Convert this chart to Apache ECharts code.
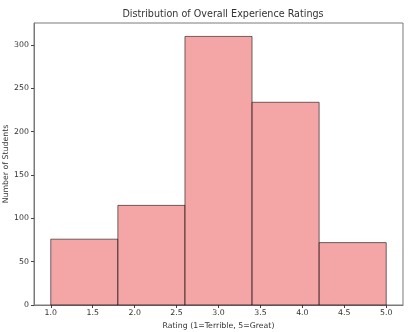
<!DOCTYPE html>
<html>
<head>
<meta charset="utf-8">
<script src="https://cdn.jsdelivr.net/npm/echarts@6/dist/echarts.min.js"></script>
<style>
  html, body { margin: 0; padding: 0; background: #fff; }
  #chart { width: 414px; height: 332px; }
</style>
</head>
<body>
<div id="chart"></div>
<script>
// Histogram of overall experience ratings (5 bins between 1.0 and 5.0)
const binEdges = [1.0, 1.8, 2.6, 3.4, 4.2, 5.0];
const binCounts = [76, 115, 310, 234, 72];
const xTicks = [1.0, 1.5, 2.0, 2.5, 3.0, 3.5, 4.0, 4.5, 5.0];
const yTicks = [0, 50, 100, 150, 200, 250, 300];
const yAxisTitle = 'Number of Students';

const font = 'DejaVu Sans';
const frameColor = '#7a7a7a';

const bins = binCounts.map((c, i) => [binEdges[i], binEdges[i + 1], c]);

const chart = echarts.init(document.getElementById('chart'), null, { renderer: 'canvas' });
chart.setOption({
  animation: false,
  backgroundColor: '#fff',
  title: {
    text: 'Distribution of Overall Experience Ratings',
    left: 218,
    top: 4,
    textAlign: 'center',
    textStyle: { fontFamily: font, fontSize: 9.6, fontWeight: 'normal', color: '#333' }
  },
  grid: {
    left: 34, right: 11, top: 23, bottom: 27,
    containLabel: false,
    outerBoundsMode: 'none',
    show: true, borderColor: frameColor, borderWidth: 1
  },
  // vertical axis title, rotated and centred on the plot height
  graphic: [{
    type: 'text',
    x: 6, y: 164,
    rotation: Math.PI / 2,
    style: {
      text: yAxisTitle,
      fontFamily: font, fontSize: 7.8, fill: '#333',
      align: 'center', verticalAlign: 'middle'
    }
  }],
  xAxis: {
    type: 'value',
    min: 0.8, max: 5.2,
    name: 'Rating (1=Terrible, 5=Great)',
    nameLocation: 'middle',
    nameGap: 15,
    nameTextStyle: { fontFamily: font, fontSize: 7.8, color: '#333' },
    splitLine: { show: false },
    axisLine: { show: true, lineStyle: { color: frameColor, width: 1 } },
    axisTick: { show: true, length: 3, customValues: xTicks, lineStyle: { color: '#444' } },
    axisLabel: {
      customValues: xTicks, margin: 4,
      fontFamily: font, fontSize: 7.8, color: '#333',
      formatter: v => v.toFixed(1)
    }
  },
  yAxis: {
    type: 'value',
    min: 0, max: 325.5,
    splitLine: { show: false },
    axisLine: { show: true, lineStyle: { color: frameColor, width: 1 } },
    axisTick: { show: true, length: 3, customValues: yTicks, lineStyle: { color: '#444' } },
    axisLabel: {
      customValues: yTicks, margin: 5,
      fontFamily: font, fontSize: 7.8, color: '#333'
    }
  },
  series: [{
    type: 'custom',
    data: bins,
    encode: { x: [0, 1], y: 2 },
    renderItem: function (params, api) {
      const p0 = api.coord([api.value(0), 0]);
      const p1 = api.coord([api.value(1), api.value(2)]);
      return {
        type: 'rect',
        shape: { x: p0[0], y: p1[1], width: p1[0] - p0[0], height: p0[1] - p1[1] },
        style: { fill: 'rgba(240,128,128,0.7)', stroke: 'rgba(0,0,0,0.7)', lineWidth: 0.8 }
      };
    }
  }]
});
</script>
</body>
</html>
